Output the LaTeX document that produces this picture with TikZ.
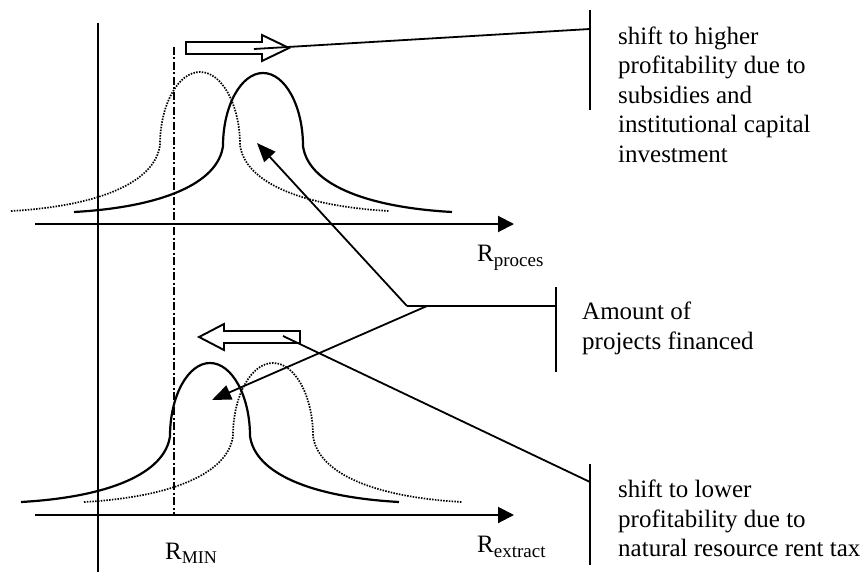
\documentclass[tikz,border=0pt]{standalone}
\usepackage{fontspec}
\setmainfont{Liberation Serif}
\usetikzlibrary{arrows.meta}
\begin{document}
\begin{tikzpicture}[x=1pt,y=-1pt,
  axisline/.style={line width=2pt},
  axisarrow/.style={line width=2pt,-{Triangle[length=16pt,width=16pt]}},
  rminline/.style={line width=1.8pt,dash pattern=on 8pt off 2.5pt on 2pt off 2.5pt},
  solidcurve/.style={line width=2.2pt},
  dotcurve/.style={line width=1.7pt,dash pattern=on 1.5pt off 1.3pt},
  blockarrow/.style={line width=1.9pt,fill=white,line join=miter},
  connector/.style={line width=1.8pt},
  pointer/.style={line width=1.8pt,-{Triangle[length=19pt,width=15pt]}},
  bar/.style={line width=2pt},
  label/.style={anchor=north west,inner sep=0pt,align=left,font=\fontsize{25}{29.5}\selectfont},
  rlabel/.style={anchor=base west,inner sep=0pt,font=\fontsize{25}{25}\selectfont},
  pics/bell/.style={code={\draw[#1] (-189,139) .. controls (-100,134) and (-45,110) .. (-40,73)
      .. controls (-40,33) and (-22,0) .. (0,0)
      .. controls (22,0) and (40,33) .. (40,73)
      .. controls (45,110) and (100,134) .. (189,139);}}
]
\useasboundingbox (0,0) rectangle (866,572);

% axes
\coordinate (vtop) at (98,23);
\coordinate (vbot) at (98,572);
\draw[axisline] (vtop) -- (vbot);
\coordinate (ta0) at (35,224);
\coordinate (ta1) at (514,224);
\draw[axisarrow] (ta0) -- (ta1);
\coordinate (ba0) at (35,515);
\coordinate (ba1) at (514,515);
\draw[axisarrow] (ba0) -- (ba1);

% R_MIN line
\coordinate (rmtop) at (174,47);
\coordinate (rmbot) at (174,515);
\draw[rminline] (rmtop) -- (rmbot);

% distributions
\pic at (200,72) {bell={dotcurve}};
\pic at (263,73) {bell={solidcurve}};
\pic at (210,363) {bell={solidcurve}};
\pic at (273,363) {bell={dotcurve}};

% block arrows
\draw[blockarrow] (186,42) -- (262,42) -- (262,35) -- (289,48) -- (262,61) -- (262,54) -- (186,54) -- cycle;
\draw[blockarrow] (300,331) -- (224,331) -- (224,324) -- (199,337) -- (224,350) -- (224,343) -- (300,343) -- cycle;

% labels
\node[label] (lhigh) at (618,26.5) {shift to higher\\profitability due to\\subsidies and\\institutional capital\\investment};
\node[label] (lamount) at (582,302) {Amount of\\projects financed};
\node[label] (llow) at (618,480) {shift to lower\\profitability due to\\natural resource rent tax};

\node[rlabel] (rproc) at (477,261) {R\raisebox{-5pt}{\fontsize{19}{19}\selectfont proces}};
\node[rlabel] (rext) at (477,552) {R\raisebox{-5pt}{\fontsize{19}{19}\selectfont extract}};
\node[rlabel] (rmin) at (165,559) {R\raisebox{-4pt}{\fontsize{18}{18}\selectfont MIN}};

% bars
\coordinate (b1t) at (590,10);
\coordinate (b1b) at (590,110);
\draw[bar] (b1t) -- (b1b);
\coordinate (b2t) at (556,287);
\coordinate (b2b) at (556,372);
\draw[bar] (b2t) -- (b2b);
\coordinate (b3t) at (590,464);
\coordinate (b3b) at (590,565);
\draw[bar] (b3t) -- (b3b);

% connectors
\coordinate (c1s) at (254,49);
\coordinate (c1e) at (590,29);
\draw[connector] (c1s) -- (c1e);
\coordinate (c3s) at (283,336);
\coordinate (c3e) at (590,482);
\draw[connector] (c3s) -- (c3e);
\coordinate (h0) at (407,306);
\coordinate (h1) at (427,306);
\coordinate (h2) at (556,306);
\draw[connector] (h0) -- (h2);
\coordinate (p1) at (257,143);
\coordinate (p2) at (212,400);
\draw[pointer] (h0) -- (p1);
\draw[pointer] (h1) -- (p2);
\end{tikzpicture}
\end{document}
